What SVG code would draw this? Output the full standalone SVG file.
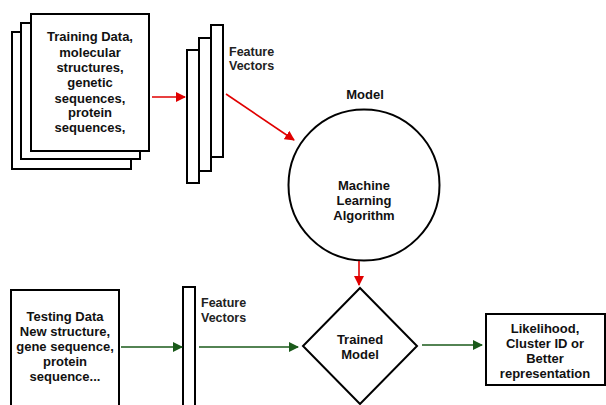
<svg xmlns="http://www.w3.org/2000/svg" width="606" height="405" viewBox="0 0 606 405">
<style>
.box{fill:#fff;stroke:#000;stroke-width:2}
.t{font-family:"Liberation Sans",Arial,sans-serif;font-weight:bold;font-size:13px;fill:#111;text-anchor:middle}
.tl{font-family:"Liberation Sans",Arial,sans-serif;font-weight:bold;font-size:12.5px;fill:#222}
.red{stroke:#e00000;stroke-width:1.6;fill:none}
.grn{stroke:#1a5a1a;stroke-width:1.6;fill:none}
</style>
<defs>
<marker id="ar" markerWidth="10" markerHeight="10" refX="9" refY="5" orient="auto" markerUnits="userSpaceOnUse"><path d="M0,0 L10,5 L0,10 z" fill="#e00000"/></marker>
<marker id="ag" markerWidth="10" markerHeight="10" refX="9" refY="5" orient="auto" markerUnits="userSpaceOnUse"><path d="M0,0 L10,5 L0,10 z" fill="#1a5a1a"/></marker>
</defs>
<rect width="606" height="405" fill="#fff"/>
<g id="training">
<rect class="box" x="12" y="32" width="119" height="137"/>
<rect class="box" x="21" y="23" width="119" height="136"/>
<rect class="box" x="31" y="14" width="118" height="137"/>
<text class="t" x="90" y="41">Training Data,</text>
<text class="t" x="90" y="57">molecular</text>
<text class="t" x="90" y="72">structures,</text>
<text class="t" x="90" y="87">genetic</text>
<text class="t" x="90" y="103">sequences,</text>
<text class="t" x="90" y="117">protein</text>
<text class="t" x="90" y="132">sequences,</text>
</g>
<g id="features1">
<rect class="box" x="211" y="25" width="12" height="132"/>
<rect class="box" x="199" y="38" width="12" height="133"/>
<rect class="box" x="187" y="50" width="12" height="133"/>
<text class="tl" x="229" y="56">Feature</text>
<text class="tl" x="229" y="70">Vectors</text>
</g>
<g id="model">
<text class="t" x="365" y="99">Model</text>
<circle cx="364" cy="185" r="75.5" fill="#fff" stroke="#000" stroke-width="2"/>
<text class="t" x="364" y="190">Machine</text>
<text class="t" x="364" y="205">Learning</text>
<text class="t" x="364" y="220">Algorithm</text>
</g>
<g id="testing">
<rect class="box" x="11" y="290" width="108" height="125"/>
<text class="t" x="65" y="321">Testing Data</text>
<text class="t" x="65" y="336">New structure,</text>
<text class="t" x="65" y="351">gene sequence,</text>
<text class="t" x="65" y="366">protein</text>
<text class="t" x="65" y="381">sequence...</text>
</g>
<g id="features2">
<rect class="box" x="183" y="287" width="12" height="125"/>
<text class="tl" x="201" y="307">Feature</text>
<text class="tl" x="201" y="322">Vectors</text>
</g>
<g id="trained">
<path d="M360,288 L417,346 L360,404 L303,346 Z" fill="#fff" stroke="#000" stroke-width="2"/>
<text class="t" x="360" y="344">Trained</text>
<text class="t" x="360" y="359">Model</text>
</g>
<g id="output">
<rect class="box" x="486" y="314" width="119" height="71"/>
<text class="t" x="545" y="333">Likelihood,</text>
<text class="t" x="545" y="348">Cluster ID or</text>
<text class="t" x="545" y="363">Better</text>
<text class="t" x="545" y="378">representation</text>
</g>
<g id="connectors">
<line class="red" x1="152" y1="97" x2="185" y2="97" marker-end="url(#ar)"/>
<line class="red" x1="226" y1="94" x2="294" y2="140" marker-end="url(#ar)"/>
<line class="red" x1="359" y1="261" x2="359" y2="285" marker-end="url(#ar)"/>
<line class="grn" x1="121" y1="347" x2="182" y2="347" marker-end="url(#ag)"/>
<line class="grn" x1="199" y1="347" x2="298" y2="347" marker-end="url(#ag)"/>
<line class="grn" x1="422" y1="345" x2="482" y2="345" marker-end="url(#ag)"/>
</g>
</svg>
